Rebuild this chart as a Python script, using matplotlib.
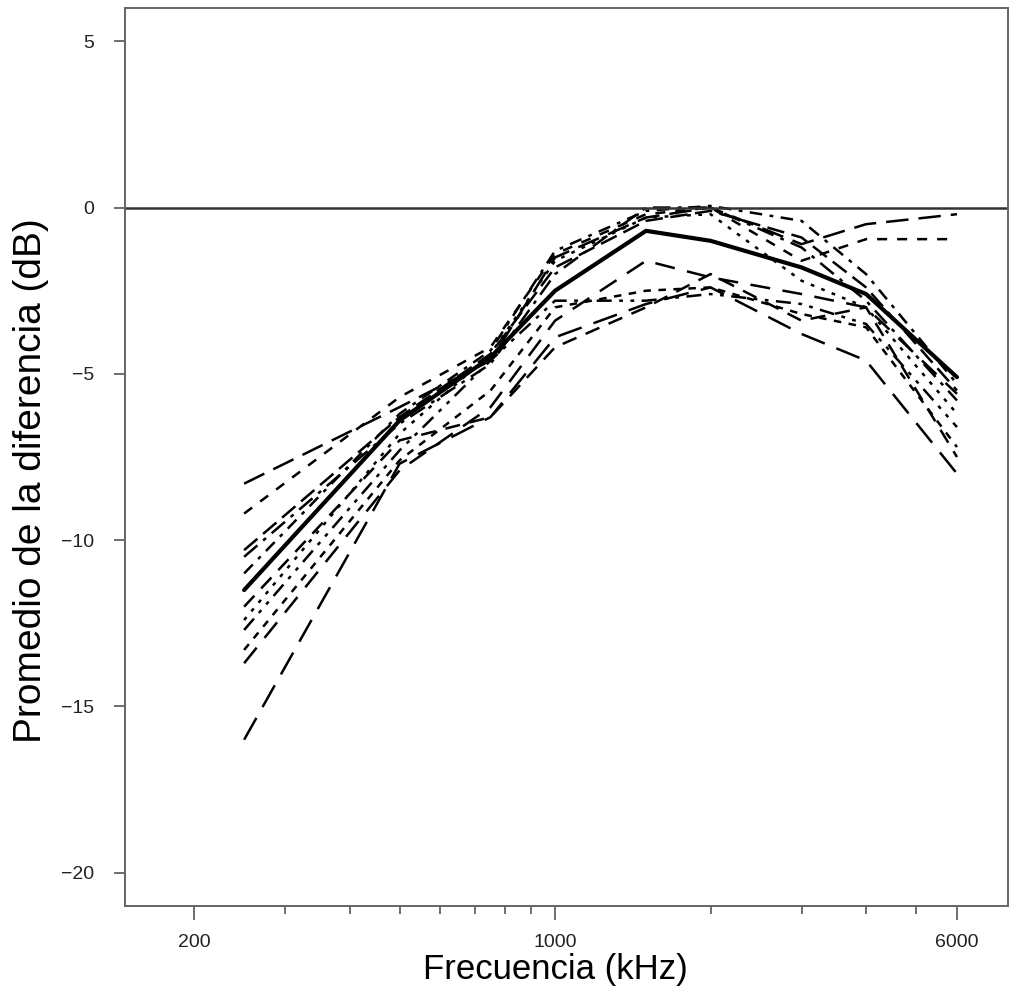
import numpy as np
import matplotlib
matplotlib.use('Agg')
import matplotlib.pyplot as plt
from matplotlib.ticker import FixedLocator, NullFormatter

# frecuencias de medida (Hz) y curvas de diferencia (dB)
freqs = [250, 500, 750, 1000, 1500, 2000, 3000, 4000, 6000]

promedio = [-11.5, -6.4, -4.5, -2.5, -0.7, -1.0, -1.8, -2.6, -5.1]

curva_01 = [-8.3, -6.0, -4.6, -1.5, -0.3, 0.0, -1.1, -0.5, -0.2]
curva_02 = [-9.2, -5.7, -4.2, -1.4, -0.2, 0.0, -1.6, -0.95, -0.95]
curva_03 = [-10.3, -6.3, -4.4, -1.8, -0.4, -0.1, -0.9, -2.4, -5.5]
curva_04 = [-10.5, -6.5, -4.7, -2.0, 0.0, 0.0, -1.2, -2.8, -5.8]
curva_05 = [-12.4, -6.8, -4.4, -1.6, -0.3, -0.2, -2.2, -3.0, -6.2]
curva_06 = [-12.7, -7.3, -4.6, -2.8, -2.8, -2.6, -2.9, -3.5, -6.6]
curva_07 = [-13.3, -7.6, -5.5, -3.0, -2.5, -2.4, -3.2, -3.6, -7.2]
curva_08 = [-13.7, -7.9, -6.0, -3.4, -1.6, -2.1, -2.6, -3.0, -5.6]
curva_09 = [-16.0, -7.7, -6.3, -3.9, -2.9, -2.4, -3.8, -4.6, -8.0]
curva_10 = [-11.0, -6.2, -4.3, -1.3, -0.1, 0.05, -0.4, -2.0, -5.3]
curva_11 = [-12.0, -7.0, -6.3, -4.2, -3.0, -2.0, -3.4, -3.0, -7.5]

curvas = [curva_01, curva_02, curva_03, curva_04, curva_05, curva_06,
          curva_07, curva_08, curva_09, curva_10, curva_11]
estilos = [(0, (9, 4)), (0, (4, 4)), (0, (7, 3)), (0, (7, 3, 1.5, 3)),
           (0, (1.5, 3)), (0, (6, 3, 1.5, 3, 1.5, 3)), (0, (3, 3)),
           (0, (8, 5)), (0, (10, 5)), (0, (5, 3, 1.5, 3)), (0, (6, 4))]

plt.rcParams['font.family'] = ['Liberation Sans', 'DejaVu Sans']

fig = plt.figure(figsize=(10.13, 9.86), dpi=100)
ax = fig.add_axes([0.1234, 0.0811, 0.8716, 0.9108])

for c, ls in zip(curvas, estilos):
    ax.plot(freqs, c, color='black', lw=1.8, linestyle=ls)
ax.plot(freqs, promedio, color='black', lw=3.0, solid_capstyle='round')
ax.axhline(0, color='#333333', lw=1.8)

ax.set_xscale('log')
ax.set_xlim(147, 7530)
ax.set_ylim(-21, 6)

ax.xaxis.set_major_locator(FixedLocator([200, 1000, 6000]))
ax.set_xticklabels(['200', '1000', '6000'])
ax.xaxis.set_minor_locator(FixedLocator([300, 400, 500, 600, 700, 800, 900,
                                         2000, 3000, 4000, 5000]))
ax.xaxis.set_minor_formatter(NullFormatter())
ax.set_yticks([5, 0, -5, -10, -15, -20])
ax.set_yticklabels(['5', '0', '\u22125', '\u221210', '\u221215', '\u221220'])

ax.tick_params(axis='both', which='major', direction='out', length=8,
               width=1.2, color='#555555', labelsize=14, labelcolor='#222222')
ax.tick_params(axis='x', which='major', length=10, pad=10)
ax.tick_params(axis='x', which='minor', direction='out', length=6,
               width=1.2, color='#555555')
ax.tick_params(axis='y', pad=14)

for s in ax.spines.values():
    s.set_color('#666666')
    s.set_linewidth(1.4)

ax.set_xlabel('Frecuencia (kHz)', fontsize=25)
ax.set_ylabel('Promedio de la diferencia (dB)', fontsize=28)
ax.xaxis.set_label_coords(0.487, -0.052)
ax.yaxis.set_label_coords(-0.086, 0.474)

fig.savefig('out.png', dpi=100)
